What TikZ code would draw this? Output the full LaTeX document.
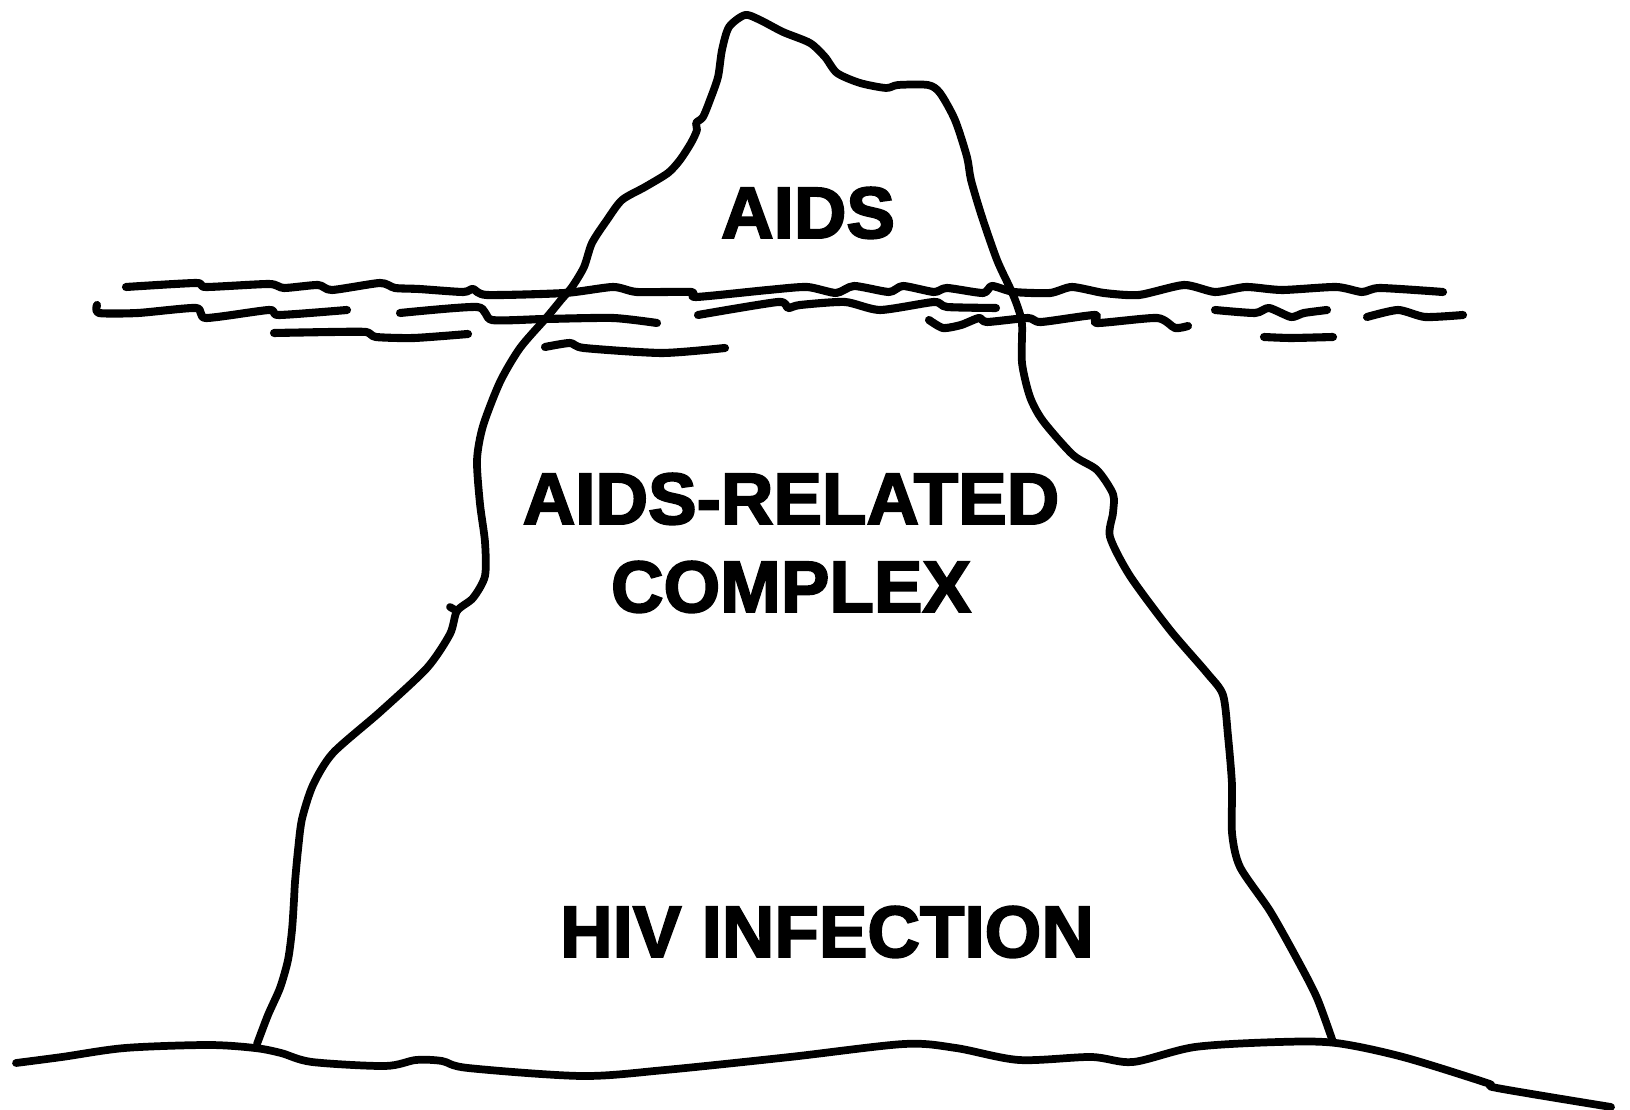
\documentclass[tikz,border=0pt]{standalone}
\usepackage{fontspec}
\setmainfont{Liberation Sans}
\newfontfamily\labelfont[FakeBold=2.6]{Liberation Sans Bold}
\begin{document}
\begin{tikzpicture}[x=0.01cm,y=-0.01cm,
  ice/.style={line width=2.2pt,line cap=round,line join=round},
  wave/.style={line width=2.3pt,line cap=round,line join=round},
  ground/.style={line width=2.2pt,line cap=round,line join=round},
  label/.style={font=\fontsize{20.7}{25}\selectfont\labelfont,inner sep=0pt,align=center}]
\useasboundingbox (0,0) rectangle (1630,1110);

% iceberg outline
\draw[ice] plot[smooth,tension=0.45] coordinates {
 (257,1044) (268,1015) (280,988) (288,960) (292,930) (294,900) (295,882)
 (298,850) (302,819) (313,785) (333,753) (380,712) (427,668) (450,634)
 (457,611) (473,598) (485,576) (485,542) (480,504) (477,460) (483,426)
 (500,382) (520,348) (547,317) (561,300) (572,287) (584,267) (592,243)
 (607,220) (622,200) (645,187) (668,173) (680,160) (691,143) (697,130)
 (696,123) (703,117) (710,100) (718,77) (722,50) (729,27) (745,15)
 (760,20) (783,32) (810,43) (825,57) (837,73) (860,83) (886,88) (898,85)
 (928,85) (940,93) (955,120) (967,157) (971,180) (982,217) (997,260)
 (1010,288) (1017,305) (1022,324) (1022,363) (1030,397) (1043,421)
 (1073,455) (1097,470) (1113,494) (1113,513) (1110,537) (1130,576)
 (1170,630) (1207,673) (1223,695) (1228,736) (1232,785) (1232,833)
 (1240,867) (1270,911) (1297,959) (1317,998) (1333,1042)};
\draw[ice] (457,611) -- (450,607);

% water surface
\draw[wave] plot[smooth,tension=0.4] coordinates {
 (126,287) (196,283) (206,287) (269,284) (284,288) (318,285) (332,290)
 (380,283) (395,288) (419,289) (463,292) (473,289) (487,295) (565,293)
 (613,287) (637,292) (691,292) (696,297) (768,290) (807,287) (836,293)
 (854,286) (889,292) (903,286) (934,292) (947,288) (983,293) (992,286)
 (1014,292) (1050,293) (1072,287) (1104,293) (1139,295) (1184,285)
 (1215,292) (1246,287) (1282,290) (1336,287) (1362,292) (1380,288)
 (1443,292)};
\draw[wave] plot[smooth,tension=0.4] coordinates {
 (97,305) (99,313) (138,313) (196,308) (206,318) (269,310) (279,315) (347,310)};
\draw[wave] plot[smooth,tension=0.4] coordinates {
 (400,313) (477,307) (492,320) (545,319) (613,318) (657,323)};
\draw[wave] plot[smooth,tension=0.4] coordinates {
 (698,315) (778,302) (788,308) (800,305) (845,302) (880,310) (934,302)
 (947,307) (996,308)};
\draw[wave] plot[smooth,tension=0.4] coordinates {
 (274,333) (332,332) (366,332) (376,337) (414,338) (468,334)};
\draw[wave] plot[smooth,tension=0.4] coordinates {
 (545,347) (570,343) (584,348) (662,353) (725,348)};
\draw[wave] plot[smooth,tension=0.4] coordinates {
 (929,320) (943,328) (961,325) (979,318) (987,322) (1028,318) (1041,322)
 (1095,315) (1097,323) (1157,318) (1175,328) (1188,326)};
\draw[wave] plot[smooth,tension=0.4] coordinates {
 (1215,310) (1255,313) (1269,308) (1291,317) (1304,313) (1327,310)};
\draw[wave] plot[smooth,tension=0.4] coordinates {
 (1367,317) (1398,310) (1425,317) (1463,315)};
\draw[wave] plot[smooth,tension=0.4] coordinates {
 (1264,337) (1291,338) (1333,337)};

% sea floor
\draw[ground] plot[smooth,tension=0.5] coordinates {
 (16,1063) (62,1057) (125,1048) (208,1045) (255,1048) (281,1053) (312,1062)
 (385,1066) (416,1060) (442,1061) (468,1068) (582,1076) (665,1070)
 (790,1057) (904,1044) (956,1048) (1019,1060) (1091,1057) (1133,1062)
 (1195,1047) (1279,1042) (1336,1043) (1403,1057) (1487,1083) (1497,1088)
 (1611,1107)};

% labels
\node[label,anchor=base] (aids) at (808,238) {AIDS};
\node[label,anchor=base] (arc) at (791,524) {AIDS-RELATED};
\node[label,anchor=base] (complex) at (791,612) {COMPLEX};
\node[label,anchor=base] (hiv) at (827,957) {HIV INFECTION};
\end{tikzpicture}
\end{document}
